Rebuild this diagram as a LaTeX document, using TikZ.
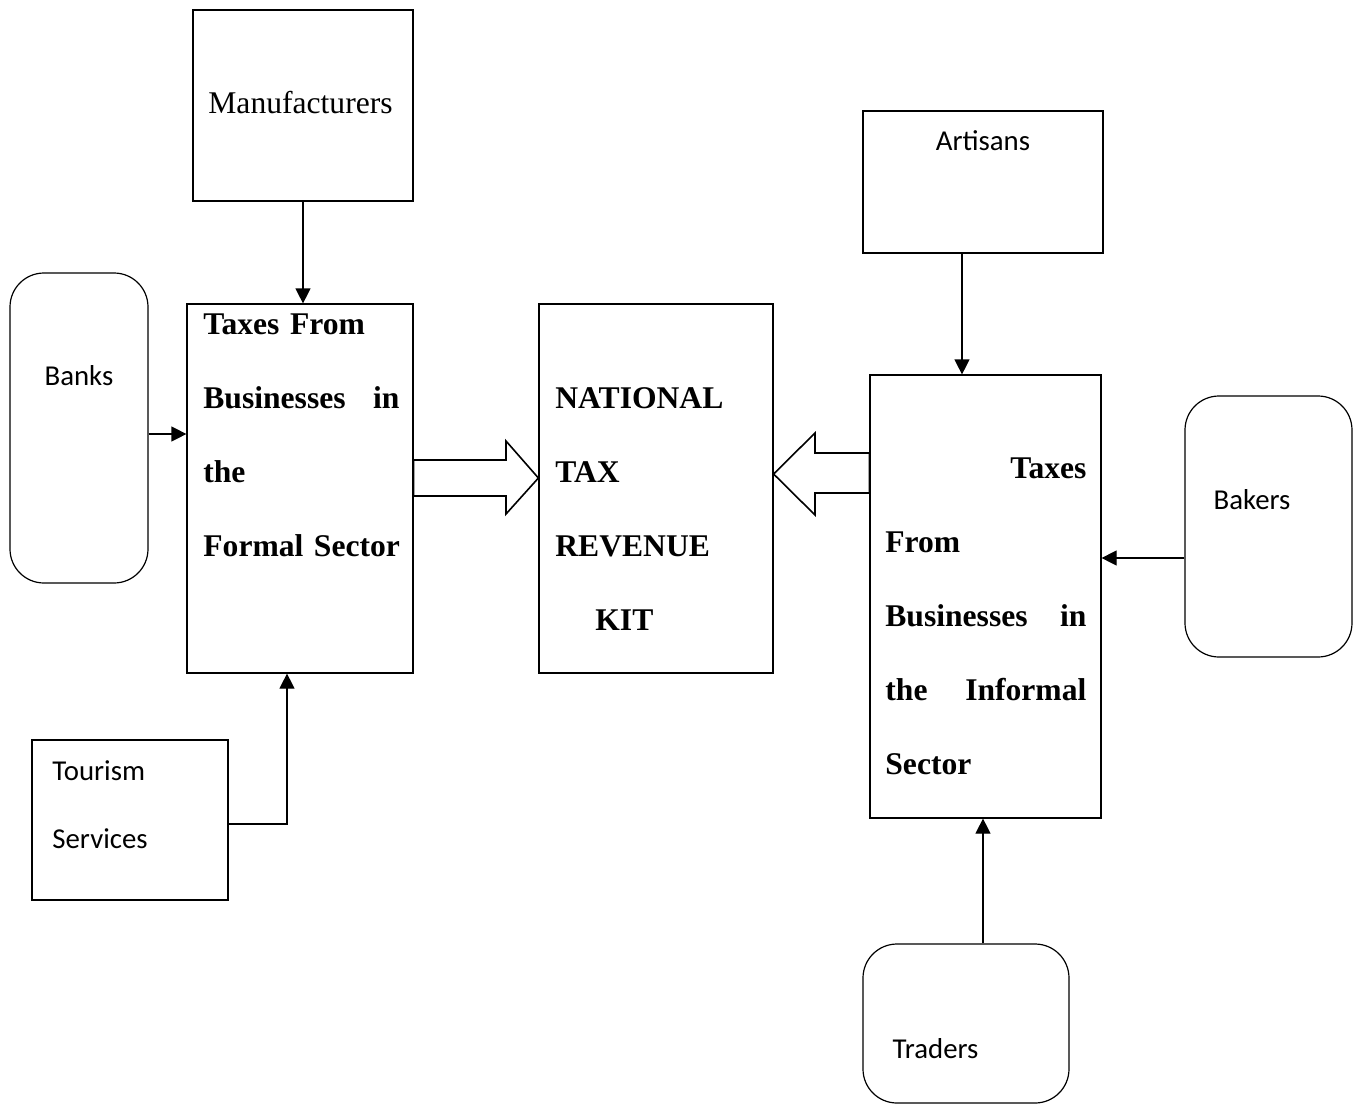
\documentclass[tikz,border=0pt]{standalone}
\usepackage{fontspec}
\setmainfont{Liberation Serif}
\newfontfamily\calibrifont{Carlito}
\usetikzlibrary{arrows.meta}

\begin{document}
\begin{tikzpicture}[
    x=0.5pt, y=-0.5pt,
    >={Triangle[length=7.5pt,width=7.5pt]},
    box/.style={draw, line width=0.6pt, rectangle, inner sep=0pt},
    roundbox/.style={box, rounded corners=17pt},
    serif/.style={font=\fontsize{15.8}{37}\selectfont, inner sep=0pt},
    heading/.style={font=\fontsize{15.8}{37}\selectfont\bfseries, inner sep=0pt, align=left, anchor=north west},
    sans/.style={font=\calibrifont\fontsize{14.4}{34}\selectfont, inner sep=0pt},
    link/.style={->, line width=0.6pt},
    blockarrow/.style={draw, line width=0.8pt, line join=miter}
]
    \useasboundingbox (0,0) rectangle (1356,1104);

    \node[box, minimum width=110pt, minimum height=95.5pt] (MANUF) at (303,105.5) {};
    \node[serif, anchor=base] (MANUFTXT) at (300.5,113) {Manufacturers};
    \node[box, minimum width=120pt, minimum height=71pt] (ARTISANS) at (983,182) {};
    \node[sans, anchor=base] (ARTISANSTXT) at (983,150) {Artisans};
    \node[roundbox, minimum width=69pt, minimum height=155pt] (BANKS) at (79,428) {};
    \node[sans, anchor=base] (BANKSTXT) at (79,385) {Banks};

    \node[box, minimum width=113pt, minimum height=184.5pt] (FORMAL) at (300,488.5) {};
    \node[heading, text width=98pt] (FORMALTXT) at (203,313) {\mbox{Taxes From}\\Businesses\hfill in\\the\\\mbox{Formal Sector}};
    \node[box, minimum width=117pt, minimum height=184.5pt] (NATIONAL) at (656,488.5) {};
    \node[heading, text width=105pt] (NATIONALTXT) at (555,387) {NATIONAL\\TAX\\REVENUE\\\hspace*{20pt}KIT};
    \node[box, minimum width=115.5pt, minimum height=221.5pt] (INFORMAL) at (985.5,596.5) {};
    \node[heading, text width=100.5pt] (INFORMALTXT) at (885,457) {\hfill Taxes\\From\\Businesses\hfill in\\the\hfill Informal\\Sector};

    \node[roundbox, minimum width=83.5pt, minimum height=130.5pt] (BAKERS) at (1268.5,526.5) {};
    \node[sans, anchor=base] (BAKERSTXT) at (1252,509) {Bakers};
    \node[box, minimum width=98pt, minimum height=80pt] (TOURISM) at (130,820) {};
    \node[sans, align=left, anchor=north west] (TOURISMTXT) at (52,760) {Tourism\\Services};
    \node[roundbox, minimum width=103pt, minimum height=79.5pt] (TRADERS) at (966,1023.5) {};
    \node[sans, anchor=base] (TRADERSTXT) at (935.5,1058) {Traders};

    \draw[link] (MANUF.south) -- (MANUF.south |- FORMAL.north);
    \draw[link] ([yshift=-3pt]BANKS.east) -- ([yshift=-3pt]BANKS.east -| FORMAL.west);
    \draw[link] ([yshift=-2pt]TOURISM.east) -| ([xshift=-6.5pt]FORMAL.south);
    \draw[link] ([xshift=-10.5pt]ARTISANS.south) -- ([xshift=-10.5pt]ARTISANS.south |- INFORMAL.north);
    \draw[link] ([yshift=-15.75pt]BAKERS.west) -- ([yshift=-15.75pt]BAKERS.west -| INFORMAL.east);
    \draw[link] ([xshift=8.5pt]TRADERS.north) -- ([xshift=8.5pt]TRADERS.north |- INFORMAL.south);

    \draw[blockarrow] (FORMAL.east |- 0,460) -- (506,460) -- (506,441) -- (NATIONAL.west |- 0,478)
        -- (506,514) -- (506,496) -- (FORMAL.east |- 0,496) -- cycle;
    \draw[blockarrow] (INFORMAL.west |- 0,453) -- (815,453) -- (815,433) -- (NATIONAL.east |- 0,474)
        -- (815,515) -- (815,493) -- (INFORMAL.west |- 0,493) -- cycle;
\end{tikzpicture}
\end{document}
